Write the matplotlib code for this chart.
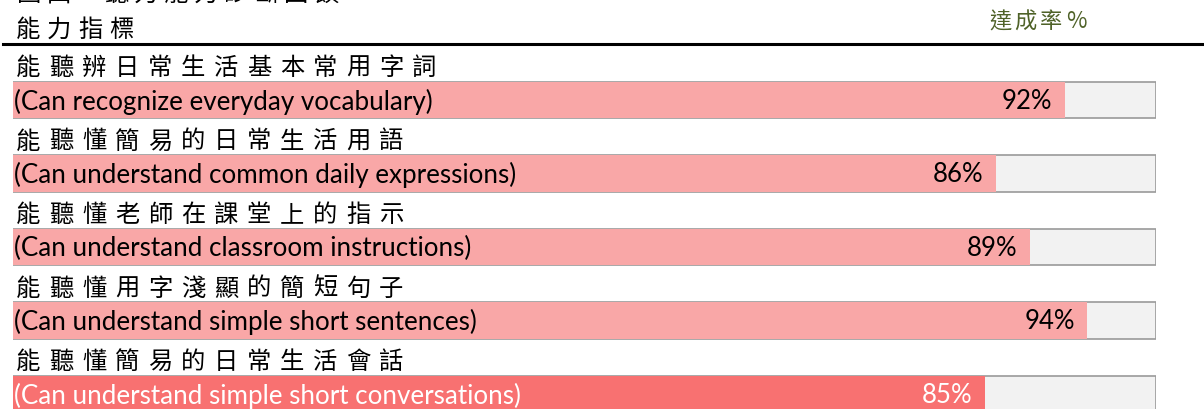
import matplotlib
matplotlib.use("Agg")
import matplotlib.pyplot as plt

# data
zh_labels = [
    "能聽辨日常生活基本常用字詞",
    "能聽懂簡易的日常生活用語",
    "能聽懂老師在課堂上的指示",
    "能聽懂用字淺顯的簡短句子",
    "能聽懂簡易的日常生活會話",
]
en_labels = [
    "(Can recognize everyday vocabulary)",
    "(Can understand common daily expressions)",
    "(Can understand classroom instructions)",
    "(Can understand simple short sentences)",
    "(Can understand simple short conversations)",
]
rates = [92, 86, 89, 94, 85]
highlight = 4  # last row is the current one

title_text = "圖四 聽力能力診斷回饋"
col_left = "能力指標"
col_right = "達成率%"

W, H = 1204, 409
CJK = "Noto Sans CJK TC"
LAT = "Lato"

fig = plt.figure(figsize=(W / 100, H / 100), dpi=100)


def spaced(x0, y0, s, pitch, size, color="black"):
    # CJK text in the reference is letter-spaced, so place glyph by glyph (pixel coords)
    x = x0
    for ch in s:
        if ch == " ":
            x += pitch * 0.9
            continue
        fig.text(x / W, 1 - y0 / H, ch, fontsize=size, family=[CJK, "DejaVu Sans"],
                 color=color, ha="center", va="center")
        x += pitch


# header
spaced(29, -6, title_text, 30, 17.5)
spaced(28, 30, col_left, 31, 17.5)
spaced(1000, 22, col_right, 25.5, 16, color="#4F6228")
fig.add_artist(plt.Line2D([3 / W, 1], [1 - 44 / H, 1 - 44 / H], color="black", lw=2.2))

# bar axes: x in percent, y in row index (row pitch 73.5 px, first bar centred at y=100 px)
left, right = 13, 1156
ax = fig.add_axes([left / W, 0, (right - left) / W, 1])
ax.set_xlim(0, 100)
ax.set_ylim((H - 100) / 73.5, -100 / 73.5)
ax.axis("off")

rows = list(range(len(rates)))
ax.barh(rows, [100] * len(rows), height=0.49, color="#F2F2F2", edgecolor="#9A9A9A", lw=1.2, zorder=1)
colors = ["#F87171" if i == highlight else "#F9A7A7" for i in rows]
ax.barh(rows, rates, height=0.49, color=colors, lw=0, zorder=2)

for i in rows:
    tc = "white" if i == highlight else "black"
    ax.text(0.1, i + 0.02, en_labels[i], fontsize=18.7, family=LAT, color=tc,
            ha="left", va="center", zorder=3, clip_on=False)
    ax.annotate(f"{rates[i]}%", (rates[i], i + 0.02), xytext=(-9, 0), textcoords="offset points",
                fontsize=18.5, family=LAT, color=tc, ha="right", va="center", zorder=3)
    ypx = 100 + 73.5 * i - 32
    spaced(28, ypx, zh_labels[i], 33, 17.5)

fig.savefig("out.png", dpi=100)
